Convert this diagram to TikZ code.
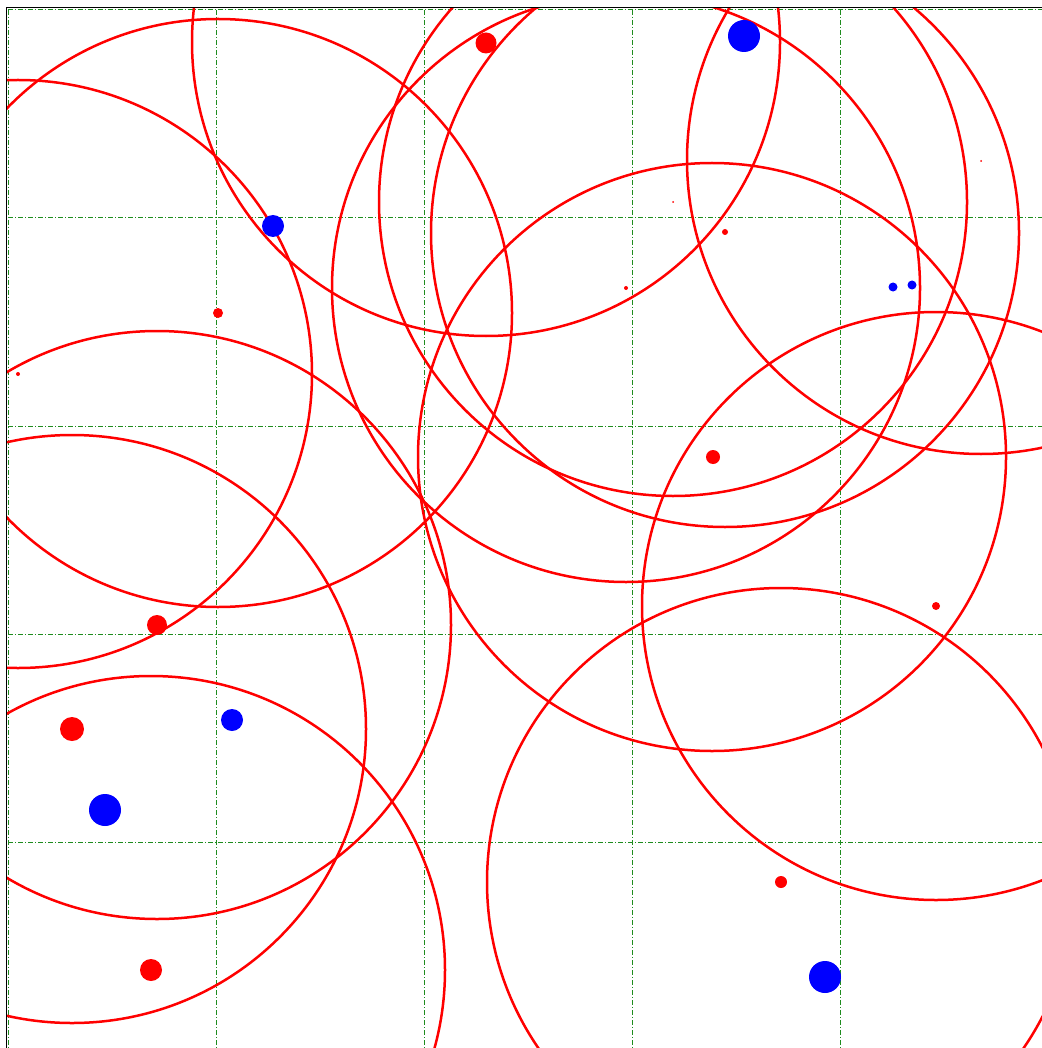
\documentclass[tikz,border=0pt]{standalone}
\begin{document}
\begin{tikzpicture}[x=1pt,y=-1pt,
  gridline/.style={draw={rgb,255:red,30;green,140;blue,30}, line width=1pt, dash pattern=on 5pt off 2pt on 1pt off 2pt},
  ring/.style={draw=red, line width=2.5pt},
  rdot/.style={fill=red},
  bdot/.style={fill=blue}]
\useasboundingbox (0,0) rectangle (1041,1048);
\fill[white] (0,0) rectangle (1041,1048);
\begin{scope}
  \clip (7,9) rectangle (1048,1050);
  \foreach \g in {8,216,424,632,840} {
    \draw[gridline] (\g,10) -- (\g,1050);
  }
  \foreach \g in {10,218,426,634,842} {
    \draw[gridline] (8,\g) -- (1048,\g);
  }
  \foreach \cx/\cy in {486/42, 18/374, 218/313, 157/625, 151/970, 72/729,
                       712/457, 936/606, 781/882, 725/233, 673/202, 626/288, 981/160} {
    \draw[ring] (\cx,\cy) circle[radius=294];
  }
\end{scope}
\draw[black, line width=1.6pt] (6.5,1060) -- (6.5,7.5) -- (1060,7.5);
% red dots
\fill[rdot] (486,43) circle[radius=10.5];
\fill[rdot] (218,313) circle[radius=5];
\fill[rdot] (18,374) circle[radius=2];
\fill[rdot] (673,202) circle[radius=1];
\fill[rdot] (725,232) circle[radius=3];
\fill[rdot] (626,288) circle[radius=2];
\fill[rdot] (981,161) circle[radius=1];
\fill[rdot] (713,457) circle[radius=7];
\fill[rdot] (936,606) circle[radius=4];
\fill[rdot] (157,625) circle[radius=10];
\fill[rdot] (72,729) circle[radius=12];
\fill[rdot] (151,970) circle[radius=11];
\fill[rdot] (781,882) circle[radius=6];
% blue dots
\fill[bdot] (744,36) circle[radius=16];
\fill[bdot] (273,226) circle[radius=11];
\fill[bdot] (893,287) circle[radius=4.5];
\fill[bdot] (912,285) circle[radius=4.5];
\fill[bdot] (232,720) circle[radius=11];
\fill[bdot] (105,810) circle[radius=16];
\fill[bdot] (825,977) circle[radius=16];
\end{tikzpicture}
\end{document}
